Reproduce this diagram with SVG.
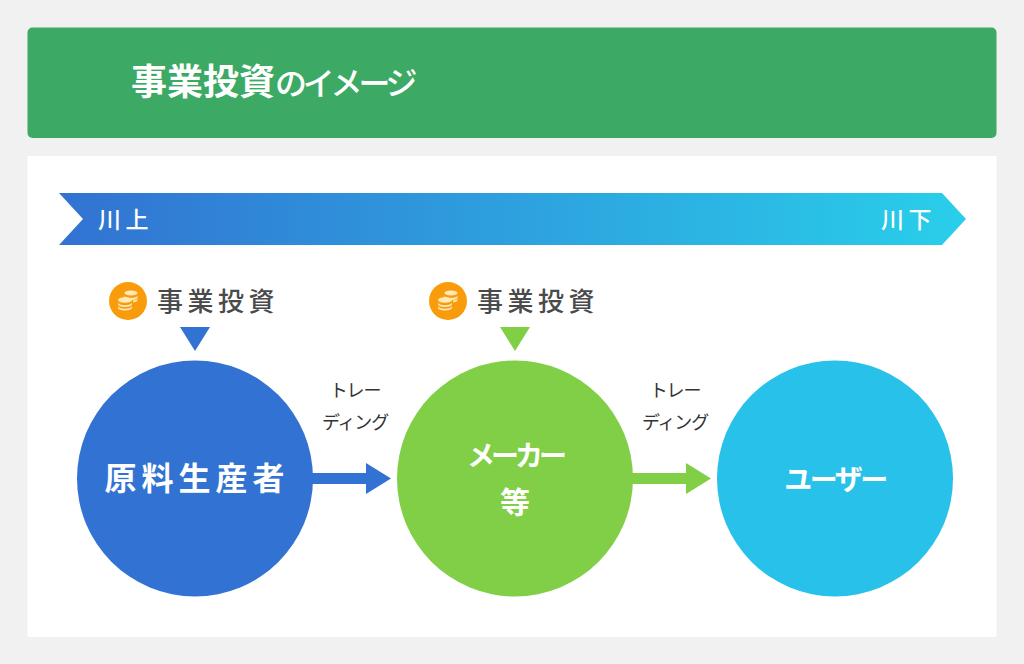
<svg xmlns="http://www.w3.org/2000/svg" width="1024" height="664" viewBox="0 0 1024 664">
<style>
text{font-family:"Noto Sans CJK JP","Noto Sans",sans-serif}
.w{fill:#fff;font-weight:700;text-anchor:middle}
.lab{fill:#4a4a4a;font-size:26px;font-weight:500;letter-spacing:4.500px}
.tr{fill:#333;font-size:18px;font-weight:400;text-anchor:middle;letter-spacing:-1.200px}
.coin{fill:#ffe9b8}
.band{fill:#fff;font-size:23px;letter-spacing:4.500px;font-weight:500}
</style>
<defs>
<linearGradient id="flow" x1="0" x2="1" y1="0" y2="0"><stop offset="0" stop-color="#3272d2"/><stop offset="1" stop-color="#29cfea"/></linearGradient>
<g id="coins"><circle cx="0" cy="0" r="19" fill="#f99c0c"/>
<g class="coin"><ellipse cx="3" cy="-8" rx="6.500" ry="2.600"/><path d="M-3.500-5.500a6.500 2.600 0 0 0 13 0v2a6.500 2.600 0 0 1-6 2.500h-7z"/><ellipse cx="-3" cy="-1" rx="7" ry="2.800"/><path d="M-10 1.500a7 2.800 0 0 0 14 0v1.800a7 2.800 0 0 1-14 0z"/><path d="M-10 5a7 2.800 0 0 0 14 0v1.800a7 2.800 0 0 1-14 0z"/><path d="M5-.5a5 2 0 0 0 4.500-1.500v1.800a5 2 0 0 1-4.500 1.500z"/></g></g>
</defs>
<rect width="1024" height="664" fill="#f1f1f1"/>
<g id="header"><rect x="27.500" y="27.500" width="969" height="110.500" rx="5" fill="#3ca964"/>
<text x="131" y="95" fill="#fff" font-weight="700" font-size="36">事業投資<tspan font-size="32" font-weight="500" letter-spacing="-4.200">のイメージ</tspan></text></g>
<rect id="panel" x="27.500" y="156" width="969" height="481" fill="#fff"/>
<g id="flow-band"><path d="M59 193H942L966 219L942 245H59L83 219Z" fill="url(#flow)"/>
<text class="band" x="98" y="228">川上</text>
<text class="band" x="881" y="228">川下</text></g>
<g id="connectors">
<path d="M312 473H366V463L391 478.500L366 494V484H312Z" fill="#3272d2"/>
<path d="M632 473H686V463L711 478.500L686 494V484H632Z" fill="#80cf46"/>
<path d="M180 327H210L195 351Z" fill="#3272d2"/>
<path d="M500 327H530L515 351Z" fill="#80cf46"/>
</g>
<g id="invest-1"><use href="#coins" x="128" y="301"/><text class="lab" x="157" y="311">事業投資</text></g>
<g id="invest-2"><use href="#coins" x="448" y="301"/><text class="lab" x="477" y="311">事業投資</text></g>
<g id="trading-1"><text class="tr" x="355" y="397">トレー</text><text class="tr" x="355" y="429">ディング</text></g>
<g id="trading-2"><text class="tr" x="675" y="397">トレー</text><text class="tr" x="675" y="429">ディング</text></g>
<g id="producer"><circle cx="195" cy="478.500" r="118" fill="#3272d2"/><text class="w" x="197" y="490" style="font-size:32px;letter-spacing:5px">原料生産者</text></g>
<g id="maker"><circle cx="515" cy="478.500" r="118" fill="#80cf46"/><text class="w" x="515" y="466" style="font-size:28px;letter-spacing:-4px">メーカー</text><text class="w" x="515" y="513" style="font-size:30px">等</text></g>
<g id="user"><circle cx="835" cy="478.500" r="118" fill="#27c1e9"/><text class="w" x="835" y="490" style="font-size:28px;letter-spacing:-2.500px">ユーザー</text></g>
</svg>
